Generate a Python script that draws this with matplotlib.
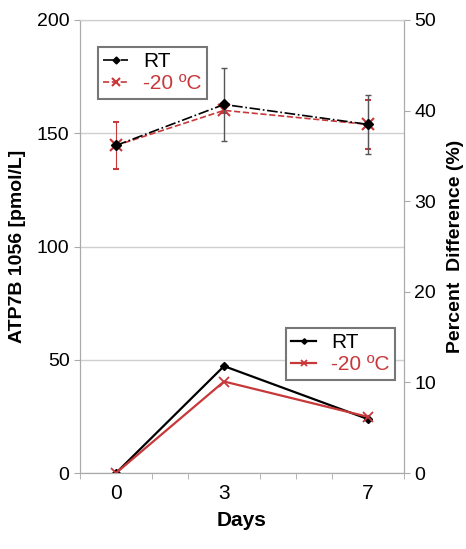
import numpy as np
import matplotlib.pyplot as plt
from matplotlib.ticker import MultipleLocator

plt.rcParams['font.family'] = ['Liberation Sans', 'DejaVu Sans']

days = [0, 3, 7]
# ATP7B concentration (left axis)
conc_rt = [144.6, 162.7, 153.9]
conc_rt_err = [1.0, 16.0, 12.9]
conc_m20 = [144.6, 160.1, 153.9]
conc_m20_err = [10.3, 1.0, 10.7]
# percent difference (right axis)
pct_rt = [0, 11.8, 5.95]
pct_m20 = [0, 10.1, 6.2]

red = '#c8383a'
grid_c = '#cfcfcf'

fig = plt.figure(figsize=(4.66, 5.49), dpi=100)
ax = fig.add_axes([0.1717, 0.1384, 0.6953, 0.8252])
ax2 = ax.twinx()

ax.set_xlim(-1, 8)
ax.set_ylim(0, 200)
ax2.set_ylim(0, 50)
ax.set_yticks([0, 50, 100, 150, 200])
ax2.set_yticks([0, 10, 20, 30, 40, 50])
ax.set_xticks(days)
ax.xaxis.set_minor_locator(MultipleLocator(1))
ax.tick_params(axis='x', which='major', length=0, labelsize=15, pad=8)
ax.tick_params(axis='x', which='minor', length=4, color='#aaaaaa', direction='out')
ax.tick_params(axis='y', length=4, color='#aaaaaa', labelsize=14)
ax2.tick_params(axis='y', length=4, color='#aaaaaa', labelsize=14)
for a in (ax, ax2):
    for s in a.spines.values():
        s.set_color('#aaaaaa')
        s.set_linewidth(0.8)
    a.spines['top'].set_color(grid_c)
ax.yaxis.grid(True, color=grid_c, linewidth=1)
ax.set_axisbelow(True)

# upper series with error bars (left axis)
e1 = ax.errorbar(days, conc_m20, yerr=conc_m20_err, color=red, ls='--', marker='x',
                 ms=8, mew=1.5, lw=1.2, ecolor=red, elinewidth=0.8, capsize=2, zorder=3)
e2 = ax.errorbar(days, conc_rt, yerr=conc_rt_err, color='black', ls='-.', marker='D',
                 ms=5, lw=1.2, ecolor='#555555', elinewidth=1, capsize=2, zorder=4)

# lower series (right axis)
l3, = ax2.plot(days, pct_rt, color='black', marker='D', ms=4, lw=1.6)
l4, = ax2.plot(days, pct_m20, color=red, marker='x', ms=7, mew=1.3, lw=1.6)

leg_kw = dict(loc='upper left', fontsize=15, fancybox=False, edgecolor='#777777',
              framealpha=1, handlelength=1.2, handletextpad=0.7, borderpad=0.25,
              labelspacing=0.15, borderaxespad=0, markerscale=0.7)
leg1 = ax.legend([e2.lines[0], e1.lines[0]], ['RT', '-20 \u00baC'],
                 bbox_to_anchor=(0.056, 0.94), **leg_kw)
leg1.get_frame().set_linewidth(1.5)
leg1.get_texts()[1].set_color(red)

leg2 = ax2.legend([l3, l4], ['RT', '-20 \u00baC'], bbox_to_anchor=(0.636, 0.32), **leg_kw)
leg2.get_frame().set_linewidth(1.5)
leg2.get_texts()[1].set_color(red)

ax.set_ylabel('ATP7B 1056 [pmol/L]', fontsize=14, fontweight='bold', labelpad=8)
ax2.set_ylabel('Percent  Difference (%)', fontsize=14, fontweight='bold', labelpad=8)
ax.set_xlabel('Days', fontsize=15, fontweight='bold', labelpad=6)

fig.savefig('out.png', dpi=100)
